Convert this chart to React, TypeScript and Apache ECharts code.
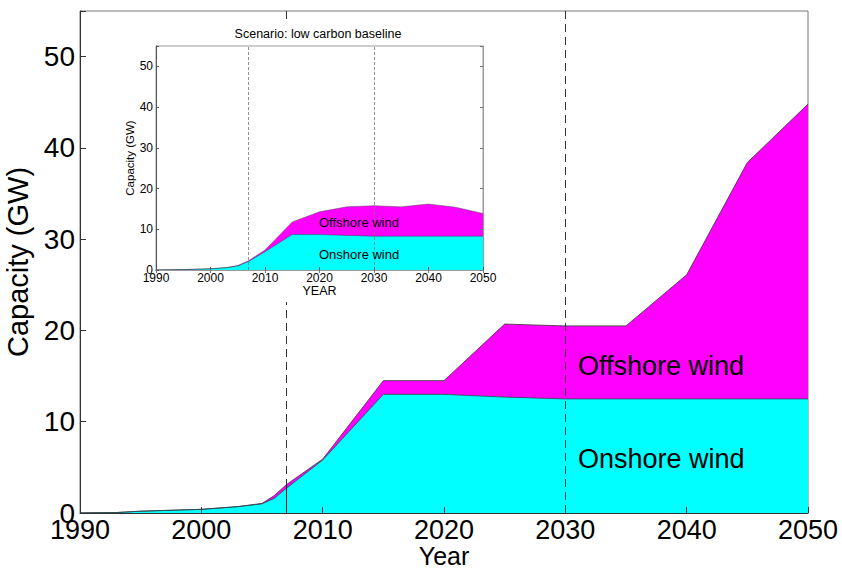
import React, { useEffect, useRef } from "react";
import * as echarts from "echarts";

// Main chart data (GW)
const mainYears = [1990, 1993, 1995, 2000, 2003, 2005, 2006, 2007, 2010, 2015, 2020, 2025, 2030, 2035, 2040, 2045, 2050];
const mainOnshore = [0, 0.05, 0.2, 0.4, 0.7, 1.0, 1.6, 2.7, 5.8, 13.0, 13.0, 12.7, 12.5, 12.5, 12.5, 12.5, 12.5];
const mainOffshore = [0, 0, 0, 0, 0, 0.05, 0.3, 0.4, 0.1, 1.5, 1.5, 8.0, 8.0, 8.0, 13.6, 25.9, 32.3];

// Inset: scenario low carbon baseline
const insetYears = [1990, 1995, 2000, 2003, 2005, 2007, 2010, 2015, 2020, 2025, 2030, 2035, 2040, 2045, 2050];
const insetOnshore = [0, 0.1, 0.3, 0.6, 1.0, 2.1, 4.5, 8.7, 8.7, 8.5, 8.3, 8.3, 8.3, 8.3, 8.3];
const insetOffshore = [0, 0, 0, 0, 0.1, 0.2, 0.4, 3.1, 5.6, 7.0, 7.5, 7.2, 7.9, 7.1, 5.6];

const markerYears = [2007, 2030];
const historyEnd = 2007;
const historyTop = 3.1;

const FONT = "Liberation Sans, Arial, sans-serif";
const CYAN = "#00FFFF";
const MAGENTA = "#FF00FF";

const pairs = (xs: number[], ys: number[]) => xs.map((x, i) => [x, ys[i]]);
// stacked top of the offshore band = onshore + offshore
const stackedPairs = (xs: number[], a: number[], b: number[]) => xs.map((x, i) => [x, +(a[i] + b[i]).toFixed(3)]);
const hide55 = (v: number) => (v > 50 ? "" : String(v));
const plain = (v: number) => String(v);

export default function App() {
  const ref = useRef<HTMLDivElement>(null);
  useEffect(() => {
    if (!ref.current) return;
    const chart = echarts.init(ref.current, undefined, { renderer: "svg" });
    const option: any = {
      animation: false,
      backgroundColor: "#fff",
      grid: [
        { left: 80, right: 34, top: 11, bottom: 55, outerBoundsMode: "none", containLabel: false, show: true, borderColor: "#777", borderWidth: 1, z: 0 },
        { left: 156, right: 359, top: 46, bottom: 298, outerBoundsMode: "none", containLabel: false, show: true, borderColor: "#999", borderWidth: 1, backgroundColor: "transparent", z: 4 },
      ],
      xAxis: [
        {
          type: "value", gridIndex: 0, min: 1990, max: 2050, interval: 10, z: 2,
          name: "Year", nameLocation: "middle", nameGap: 31, nameMoveOverlap: false,
          nameTextStyle: { fontFamily: FONT, fontSize: 25, color: "#000", lineHeight: 23 },
          axisLine: { show: true, lineStyle: { color: "#333", width: 1 } },
          axisTick: { show: true, inside: true, length: 6, lineStyle: { color: "#333" } },
          axisLabel: { fontFamily: FONT, fontSize: 27, color: "#000", margin: 6, lineHeight: 22, formatter: plain },
          splitLine: { show: false },
        },
        {
          type: "value", gridIndex: 1, min: 1990, max: 2050, interval: 10, z: 8,
          name: "YEAR", nameLocation: "middle", nameGap: 14,
          nameTextStyle: { fontFamily: FONT, fontSize: 12.5, color: "#000" },
          axisLine: { show: true, lineStyle: { color: "#555", width: 1 } },
          axisTick: { show: true, inside: true, length: 3, lineStyle: { color: "#555" } },
          axisLabel: { fontFamily: FONT, fontSize: 12, color: "#000", margin: 2, formatter: plain },
          splitLine: { show: false },
        },
        {
          type: "value", gridIndex: 1, position: "top", min: 1990, max: 2050, interval: 10, z: 8,
          axisLine: { show: true, lineStyle: { color: "#999", width: 1 } },
          axisTick: { show: true, inside: true, length: 3, lineStyle: { color: "#777" } },
          axisLabel: { show: false },
          splitLine: { show: false },
        },
      ],
      yAxis: [
        {
          type: "value", gridIndex: 0, min: 0, max: 55, interval: 10, z: 2,
          name: "Capacity (GW)", nameLocation: "middle", nameGap: 40,
          nameTextStyle: { fontFamily: FONT, fontSize: 29, color: "#000" },
          axisLine: { show: true, lineStyle: { color: "#333", width: 1 } },
          axisTick: { show: true, inside: true, length: 6, lineStyle: { color: "#333" } },
          axisLabel: { fontFamily: FONT, fontSize: 28, color: "#000", margin: 5, formatter: hide55 },
          splitLine: { show: false },
        },
        {
          type: "value", gridIndex: 1, min: 0, max: 55, interval: 10, z: 8,
          name: "Capacity (GW)", nameLocation: "middle", nameGap: 18,
          nameTextStyle: { fontFamily: FONT, fontSize: 11.5, color: "#000" },
          axisLine: { show: true, lineStyle: { color: "#555", width: 1 } },
          axisTick: { show: true, inside: true, length: 3, lineStyle: { color: "#555" } },
          axisLabel: { fontFamily: FONT, fontSize: 12, color: "#000", margin: 3, formatter: hide55 },
          splitLine: { show: false },
        },
        {
          type: "value", gridIndex: 1, position: "right", min: 0, max: 55, interval: 10, z: 8,
          axisLine: { show: true, lineStyle: { color: "#999", width: 1 } },
          axisTick: { show: true, inside: true, length: 3, lineStyle: { color: "#777" } },
          axisLabel: { show: false },
          splitLine: { show: false },
        },
      ],
      graphic: [
        { type: "rect", z: 3, shape: { x: 108, y: 22, width: 388, height: 280 }, style: { fill: "#fff" } },
        { type: "text", z: 10, x: 318, y: 34, style: { text: "Scenario: low carbon baseline", fontFamily: FONT, fontSize: 12.5, fill: "#000", align: "center", verticalAlign: "middle" } },
        { type: "text", z: 10, x: 319, y: 222, style: { text: "Offshore wind", fontFamily: FONT, fontSize: 13, fill: "#000", verticalAlign: "middle" } },
        { type: "text", z: 10, x: 319, y: 254, style: { text: "Onshore wind", fontFamily: FONT, fontSize: 13, fill: "#000", verticalAlign: "middle" } },
        { type: "text", z: 10, x: 578, y: 366, style: { text: "Offshore wind", fontFamily: FONT, fontSize: 27, fill: "#000", verticalAlign: "middle" } },
        { type: "text", z: 10, x: 578, y: 459, style: { text: "Onshore wind", fontFamily: FONT, fontSize: 27, fill: "#000", verticalAlign: "middle" } },
      ],
      series: [
        {
          name: "Offshore wind", type: "line", xAxisIndex: 0, yAxisIndex: 0,
          data: stackedPairs(mainYears, mainOnshore, mainOffshore), symbol: "none", z: 1,
          lineStyle: { color: "#333", width: 0.8 }, areaStyle: { color: MAGENTA, opacity: 1 },
          markLine: {
            silent: true, symbol: "none", label: { show: false }, z: 2,
            lineStyle: { color: "#333", width: 1, type: [8, 5] },
            data: [
              ...markerYears.map((y) => ({ xAxis: y })),
              [
                { coord: [historyEnd, 0], lineStyle: { type: "solid", color: "#222", width: 1 } },
                { coord: [historyEnd, historyTop] },
              ],
            ],
          },
        },
        {
          name: "Onshore wind", type: "line", xAxisIndex: 0, yAxisIndex: 0,
          data: pairs(mainYears, mainOnshore), symbol: "none", z: 1,
          lineStyle: { color: "#2a4a4a", width: 0.8 }, areaStyle: { color: CYAN, opacity: 1 },
        },
        {
          name: "Inset offshore", type: "line", xAxisIndex: 1, yAxisIndex: 1,
          data: stackedPairs(insetYears, insetOnshore, insetOffshore), symbol: "none", z: 5,
          lineStyle: { color: "#555", width: 0.5 }, areaStyle: { color: MAGENTA, opacity: 1 },
          markLine: {
            silent: true, symbol: "none", label: { show: false }, z: 6,
            lineStyle: { color: "#777", width: 0.8, type: [3, 2] },
            data: markerYears.map((y) => ({ xAxis: y })),
          },
        },
        {
          name: "Inset onshore", type: "line", xAxisIndex: 1, yAxisIndex: 1,
          data: pairs(insetYears, insetOnshore), symbol: "none", z: 5,
          lineStyle: { color: "#2a4a4a", width: 0.5 }, areaStyle: { color: CYAN, opacity: 1 },
        },
      ],
    };
    chart.setOption(option);
    return () => chart.dispose();
  }, []);
  return <div ref={ref} style={{ position: "fixed", left: 0, top: 0, width: 842, height: 568 }} />;
}
